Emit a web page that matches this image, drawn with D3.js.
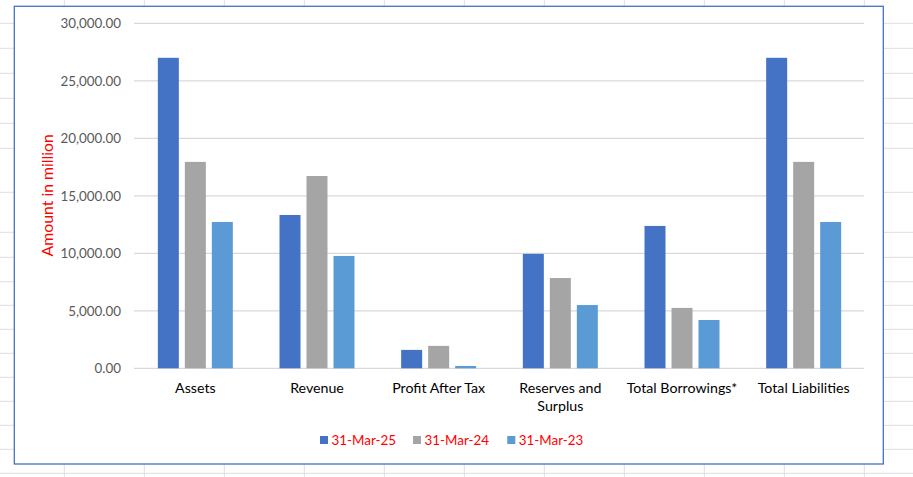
<!DOCTYPE html>
<html>
<head>
<meta charset="utf-8">
<script src="https://cdn.jsdelivr.net/npm/d3@7"></script>
<style>
  html, body { margin: 0; padding: 0; background: #ffffff; }
  svg { display: block; }
</style>
</head>
<body>
<svg id="chart" width="913" height="477"></svg>
<script>
// ---- data ----
const categories = [["Assets"], ["Revenue"], ["Profit After Tax"], ["Reserves and", "Surplus"], ["Total Borrowings*"], ["Total Liabilities"]];
const categoryKeys = ["Assets", "Revenue", "Profit After Tax", "Reserves and Surplus", "Total Borrowings*", "Total Liabilities"];
const seriesNames = ["31-Mar-25", "31-Mar-24", "31-Mar-23"];
const mar25 = [27000, 13330, 1600, 9950, 12380, 27000];
const mar24 = [17950, 16720, 1950, 7850, 5250, 17950];
const mar23 = [12720, 9770, 200, 5500, 4200, 12720];
const yTicks = [0, 5000, 10000, 15000, 20000, 25000, 30000];
const seriesColors = ["#4472C4", "#A5A5A5", "#5B9BD5"];

// ---- layout ----
const W = 913, H = 477;
const svg = d3.select("#chart");
const font = "Lato, 'Open Sans', sans-serif";

// spreadsheet background grid
const sheetRowLines = [23.3, 48.3, 73.3, 98.3, 123.3, 148.3, 192.3, 232.3, 257.3, 281.7, 305.3, 329.3, 353.3, 377.3, 401.3, 425.3, 449.3, 473.3];
const sheetColLines = d3.range(64, W, 80);
const bg = svg.append("g");
bg.selectAll("line.r").data(sheetRowLines).join("line")
  .attr("x1", 0).attr("x2", W).attr("y1", d => d).attr("y2", d => d)
  .attr("stroke", "#dedede").attr("stroke-width", 1);
bg.selectAll("line.c").data(sheetColLines).join("line")
  .attr("x1", d => d + 0.3).attr("x2", d => d + 0.3).attr("y1", 0).attr("y2", H)
  .attr("stroke", "#dedede").attr("stroke-width", 1);

// chart frame
const frame = { x: 14.3, y: 6.3, w: 869, h: 457.7 };
svg.append("rect")
  .attr("x", frame.x).attr("y", frame.y).attr("width", frame.w).attr("height", frame.h)
  .attr("fill", "#ffffff").attr("stroke", "#4472C4").attr("stroke-width", 1.3);

// scales
const plot = { left: 134.5, right: 864.5, top: 23.3, bottom: 368.3 };
const x0 = d3.scaleBand().domain(categoryKeys).range([plot.left, plot.right]).padding(0);
const groupW = 75;
const x1 = d3.scaleBand().domain(seriesNames).range([0, groupW]).paddingInner(6 / 27).paddingOuter(0);
const y = d3.scaleLinear().domain([0, 30000]).range([plot.bottom, plot.top]);

// gridlines
svg.append("g").selectAll("line").data(yTicks).join("line")
  .attr("x1", 134).attr("x2", 864)
  .attr("y1", d => y(d)).attr("y2", d => y(d))
  .attr("stroke", "#d9d9d9").attr("stroke-width", 1.2);

// y axis labels
const fmt = d3.format(",.2f");
const yAxis = d3.axisLeft(y).tickValues(yTicks).tickFormat(fmt).tickSize(0).tickPadding(0);
const gy = svg.append("g").attr("transform", `translate(121,0)`).call(yAxis);
gy.select(".domain").remove();
gy.selectAll("text").attr("font-family", font).attr("font-size", "13.4px").attr("fill", "#595959").attr("dy", "0.34em");

// bars
const seriesData = [mar25, mar24, mar23];
const groups = svg.append("g").selectAll("g").data(seriesNames).join("g")
  .attr("fill", (d, i) => seriesColors[i]);
groups.selectAll("rect")
  .data((s, si) => categoryKeys.map((c, ci) => ({ c, s, v: seriesData[si][ci] })))
  .join("rect")
  .attr("x", d => x0(d.c) + (x0.bandwidth() - groupW) / 2 + x1(d.s))
  .attr("width", x1.bandwidth())
  .attr("y", d => y(d.v))
  .attr("height", d => y(0) - y(d.v));

// category labels
const catG = svg.append("g");
categories.forEach((lines, i) => {
  const cx = x0(categoryKeys[i]) + x0.bandwidth() / 2;
  const t = catG.append("text")
    .attr("x", cx)
    .attr("y", 392.5)
    .attr("text-anchor", "middle")
    .attr("font-family", font).attr("font-size", "14.2px").attr("fill", "#000000");
  lines.forEach((ln, j) => {
    t.append("tspan").attr("x", cx).attr("dy", j === 0 ? 0 : 18).text(ln);
  });
});

// y axis title
svg.append("text")
  .attr("transform", `translate(52.5,${(plot.top + plot.bottom) / 2 - 0.5}) rotate(-90)`)
  .attr("text-anchor", "middle")
  .attr("font-family", font).attr("font-size", "15.8px").attr("fill", "#FF0000")
  .text("Amount in million");

// legend
const legendX = [320, 413, 507.3];
const lg = svg.append("g").selectAll("g").data(seriesNames).join("g")
  .attr("transform", (d, i) => `translate(${legendX[i]},436)`);
lg.append("rect").attr("width", 8).attr("height", 8).attr("fill", (d, i) => seriesColors[i]);
lg.append("text").attr("x", 11.5).attr("y", 4).attr("dy", "0.36em")
  .attr("font-family", font).attr("font-size", "13.4px").attr("fill", "#FF0000")
  .text(d => d);
</script>
</body>
</html>
